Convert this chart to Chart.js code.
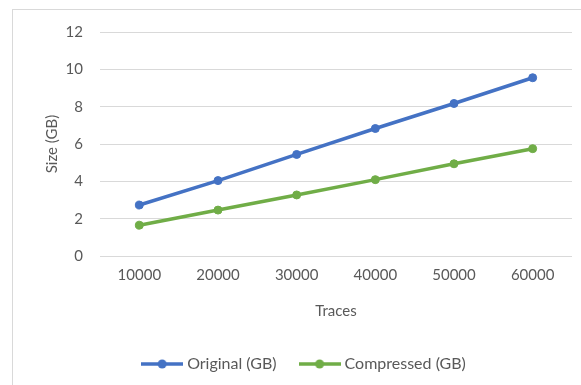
<!DOCTYPE html>
<html>
<head>
<meta charset="utf-8">
<script src="https://cdn.jsdelivr.net/npm/chart.js@4"></script>
<style>
  html, body { margin: 0; padding: 0; background: #fff; }
  .frame {
    position: absolute; left: 12px; top: 9px;
    width: 569px; height: 376px;
    border-left: 1px solid #d9d9d9; border-top: 1px solid #d9d9d9;
  }
  .frame canvas { display: block; }
</style>
</head>
<body>
<div class="frame"><canvas id="chart" width="568" height="375"></canvas></div>
<script>
const traces = ['10000', '20000', '30000', '40000', '50000', '60000'];
const originalGB = [2.73, 4.04, 5.44, 6.83, 8.17, 9.55];
const compressedGB = [1.65, 2.46, 3.27, 4.09, 4.94, 5.75];
const yTicks = [0, 2, 4, 6, 8, 10, 12];

const textColor = '#595959';
const font = { family: 'Lato, "Open Sans", sans-serif', size: 15 };
const legendFont = { family: 'Lato, "Open Sans", sans-serif', size: 16 };

// excel style legend marker: a line with a dot in the middle
function legendMarker(color) {
  const c = document.createElement('canvas');
  c.width = 42;
  c.height = 12;
  const ctx = c.getContext('2d');
  ctx.strokeStyle = color;
  ctx.lineWidth = 3.5;
  ctx.beginPath();
  ctx.moveTo(0, 6);
  ctx.lineTo(42, 6);
  ctx.stroke();
  ctx.fillStyle = color;
  ctx.beginPath();
  ctx.arc(21, 6, 4.5, 0, Math.PI * 2);
  ctx.fill();
  return c;
}

const series = [
  { label: 'Original (GB)', data: originalGB, color: '#4472C4' },
  { label: 'Compressed (GB)', data: compressedGB, color: '#70AD47' },
];

new Chart(document.getElementById('chart'), {
  type: 'line',
  data: {
    labels: traces,
    datasets: series.map(s => ({
      label: s.label,
      data: s.data,
      borderColor: s.color,
      backgroundColor: s.color,
      borderWidth: 3.5,
      pointStyle: 'circle',
      pointRadius: 4,
      pointBorderWidth: 1,
      tension: 0,
    })),
  },
  options: {
    responsive: false,
    animation: false,
    layout: { padding: { left: 26, right: 9, top: 22, bottom: 3 } },
    plugins: {
      tooltip: { enabled: false },
      legend: {
        position: 'bottom',
        labels: {
          color: textColor,
          font: legendFont,
          usePointStyle: true,
          pointStyleWidth: 34,
          padding: 26,
          generateLabels(chart) {
            return chart.data.datasets.map((ds, i) => ({
              text: ds.label,
              fontColor: textColor,
              pointStyle: legendMarker(ds.borderColor),
              strokeStyle: ds.borderColor,
              fillStyle: ds.borderColor,
              lineWidth: 0,
              hidden: false,
              datasetIndex: i,
            }));
          },
        },
      },
    },
    scales: {
      x: {
        offset: true,
        grid: { display: false, drawTicks: false },
        border: { display: false },
        ticks: { color: textColor, font: font, padding: 10, maxRotation: 0 },
        title: { display: true, text: 'Traces', color: textColor, font: font, padding: { top: 0, bottom: 10 } },
        afterFit(scale) { scale.height = 74; },
      },
      y: {
        min: 0,
        max: 12,
        afterBuildTicks(scale) { scale.ticks = yTicks.map(v => ({ value: v })); },
        grid: { color: '#d9d9d9', lineWidth: 1, drawTicks: false },
        border: { display: false },
        ticks: { color: textColor, font: font, padding: 17 },
        title: { display: true, text: 'Size (GB)', color: textColor, font: font, padding: { top: 4, bottom: 0 } },
        afterFit(scale) {
          scale.width = 61;
          scale.paddingTop = 0;
          scale.paddingBottom = 0;
        },
      },
    },
  },
});
</script>
</body>
</html>
